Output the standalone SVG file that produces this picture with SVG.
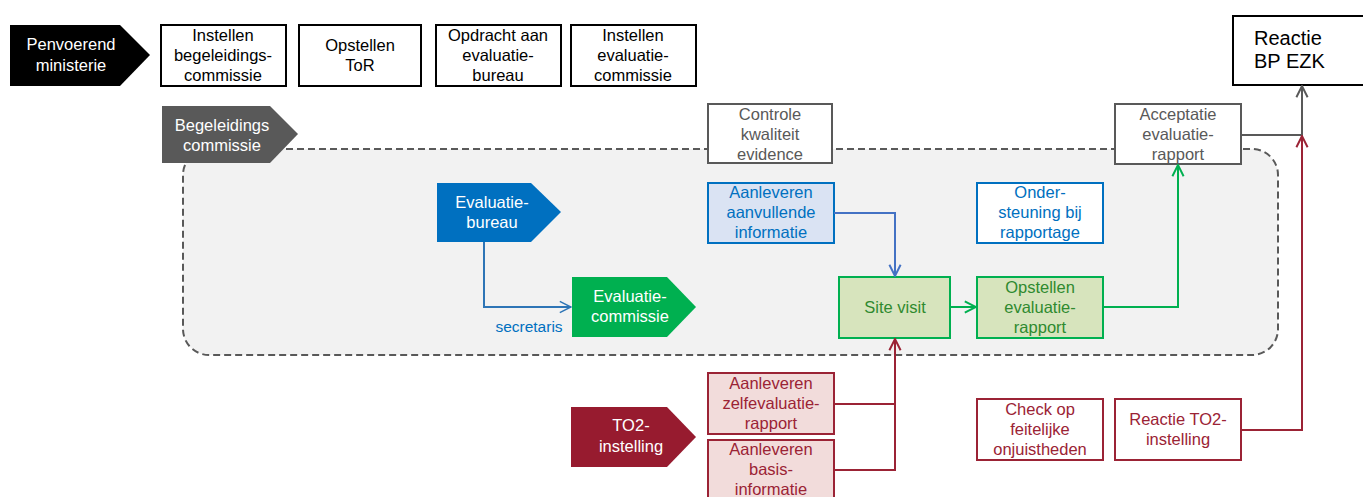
<svg xmlns="http://www.w3.org/2000/svg" width="1363" height="497" viewBox="0 0 1363 497">
<style>
text{font-family:"Liberation Sans",Arial,sans-serif;font-size:16.5px;text-anchor:middle}
.bk{fill:#fff;stroke:#000;stroke-width:2}
.gy{fill:#fff;stroke:#595959;stroke-width:2}
.gyt{fill:#595959}
.bl{stroke:#0070c0;stroke-width:2}
.blt{fill:#0070c0}
.gr{fill:#d7e4bd;stroke:#00b050;stroke-width:2}
.grt{fill:#2f8a2f}
.rd{stroke:#9b2335;stroke-width:2}
.rdt{fill:#9b2335}
.wt{fill:#fff}
.c{fill:none;stroke-width:2}
</style>
<defs>
<marker id="aB" viewBox="0 0 10 10" refX="9" refY="5" markerWidth="14" markerHeight="14" orient="auto" markerUnits="userSpaceOnUse"><path d="M1,1 L9,5 L1,9" fill="none" stroke="#4472c4" stroke-width="1.4"/></marker>
<marker id="aL" viewBox="0 0 10 10" refX="9" refY="5" markerWidth="14" markerHeight="14" orient="auto" markerUnits="userSpaceOnUse"><path d="M1,1 L9,5 L1,9" fill="none" stroke="#2e75b6" stroke-width="1.1"/></marker>
<marker id="aN" viewBox="0 0 10 10" refX="9" refY="5" markerWidth="14" markerHeight="14" orient="auto" markerUnits="userSpaceOnUse"><path d="M1,1 L9,5 L1,9" fill="none" stroke="#00b050" stroke-width="1.4"/></marker>
<marker id="aR" viewBox="0 0 10 10" refX="9" refY="5" markerWidth="14" markerHeight="14" orient="auto" markerUnits="userSpaceOnUse"><path d="M1,1 L9,5 L1,9" fill="none" stroke="#9b2335" stroke-width="1.4"/></marker>
<marker id="aK" viewBox="0 0 10 10" refX="9" refY="5" markerWidth="14" markerHeight="14" orient="auto" markerUnits="userSpaceOnUse"><path d="M1,1 L9,5 L1,9" fill="none" stroke="#595959" stroke-width="1.4"/></marker>
</defs>

<g id="region">
<rect x="183" y="149" width="1095" height="206" rx="26" fill="#f2f2f2" stroke="#595959" stroke-width="2" stroke-dasharray="7,4"/>
</g>

<g id="penvoerend"><path d="M10,25 H120 L150,55 L120,86 H10 Z" fill="#000"/><text class="wt" x="71" y="50">Penvoerend</text><text class="wt" x="71" y="71">ministerie</text></g>
<g id="instellen-bc"><rect class="bk" x="161" y="25" width="125" height="61"/><text x="223" y="41">Instellen</text><text x="223" y="61">begeleidings-</text><text x="223" y="81">commissie</text></g>
<g id="tor"><rect class="bk" x="299" y="25" width="122" height="61"/><text x="360" y="51">Opstellen</text><text x="360" y="71">ToR</text></g>
<g id="opdracht"><rect class="bk" x="436" y="25" width="125" height="61"/><text x="498" y="41">Opdracht aan</text><text x="498" y="61">evaluatie-</text><text x="498" y="81">bureau</text></g>
<g id="instellen-ec"><rect class="bk" x="571" y="25" width="125" height="61"/><text x="633" y="41">Instellen</text><text x="633" y="61">evaluatie-</text><text x="633" y="81">commissie</text></g>
<g id="reactie-bp"><rect class="bk" x="1233" y="16" width="135" height="69"/><text x="1254" y="45" style="font-size:20px;text-anchor:start">Reactie</text><text x="1254" y="68" style="font-size:20px;text-anchor:start">BP EZK</text></g>

<g id="begeleidings"><path d="M162,106 H270 L298,134 L270,163 H162 Z" fill="#595959"/><text class="wt" x="222" y="131">Begeleidings</text><text class="wt" x="222" y="151">commissie</text></g>
<g id="controle"><rect class="gy" x="708" y="104" width="124" height="59"/><text class="gyt" x="770" y="120">Controle</text><text class="gyt" x="770" y="140">kwaliteit</text><text class="gyt" x="770" y="160">evidence</text></g>
<g id="acceptatie"><rect class="gy" x="1115" y="104" width="126" height="60"/><text class="gyt" x="1178" y="120">Acceptatie</text><text class="gyt" x="1178" y="140">evaluatie-</text><text class="gyt" x="1178" y="160">rapport</text></g>

<g id="evaluatiebureau"><path d="M437,183 H531 L561,212 L531,242 H437 Z" fill="#0070c0"/><text class="wt" x="492" y="208">Evaluatie-</text><text class="wt" x="492" y="228">bureau</text></g>
<g id="aanvullende"><rect class="bl" fill="#dae3f3" x="708" y="183" width="126" height="60"/><text class="blt" x="771" y="198">Aanleveren</text><text class="blt" x="771" y="218">aanvullende</text><text class="blt" x="771" y="238">informatie</text></g>
<g id="ondersteuning"><rect class="bl" fill="#fff" x="977" y="183" width="126" height="60"/><text class="blt" x="1040" y="198">Onder-</text><text class="blt" x="1040" y="218">steuning bij</text><text class="blt" x="1040" y="238">rapportage</text></g>

<g id="evaluatiecommissie"><path d="M572,277 H667 L696,307 L667,337 H572 Z" fill="#00b050"/><text class="wt" x="630" y="302">Evaluatie-</text><text class="wt" x="630" y="322">commissie</text></g>
<g id="sitevisit"><rect class="gr" x="839" y="277" width="111" height="61"/><text class="grt" x="895" y="313">Site visit</text></g>
<g id="opstellen-rapport"><rect class="gr" x="977" y="277" width="126" height="61"/><text class="grt" x="1040" y="293">Opstellen</text><text class="grt" x="1040" y="313">evaluatie-</text><text class="grt" x="1040" y="333">rapport</text></g>

<g id="to2"><path d="M571,407 H667 L696,437 L667,467 H571 Z" fill="#971b2f"/><text class="wt" x="631" y="431">TO2-</text><text class="wt" x="631" y="452">instelling</text></g>
<g id="zelfevaluatie"><rect class="rd" fill="#f2dcdb" x="708" y="373" width="126" height="61"/><text class="rdt" x="771" y="389">Aanleveren</text><text class="rdt" x="771" y="409">zelfevaluatie-</text><text class="rdt" x="771" y="429">rapport</text></g>
<g id="basisinformatie"><rect class="rd" fill="#f2dcdb" x="708" y="440" width="126" height="62"/><text class="rdt" x="771" y="455">Aanleveren</text><text class="rdt" x="771" y="475">basis-</text><text class="rdt" x="771" y="495">informatie</text></g>
<g id="check"><rect class="rd" fill="#fff" x="977" y="399" width="126" height="61"/><text class="rdt" x="1040" y="415">Check op</text><text class="rdt" x="1040" y="435">feitelijke</text><text class="rdt" x="1040" y="455">onjuistheden</text></g>
<g id="reactie-to2"><rect class="rd" fill="#fff" x="1115" y="399" width="126" height="61"/><text class="rdt" x="1178" y="425">Reactie TO2-</text><text class="rdt" x="1178" y="445">instelling</text></g>

<g id="connectors">
<path class="c" d="M484,242 V307 H571" stroke="#2e75b6" stroke-width="1.2" marker-end="url(#aL)"/>
<text class="blt" x="529" y="332" style="font-size:15.5px">secretaris</text>
<path class="c" d="M834,213 H895 V276" stroke="#4472c4" marker-end="url(#aB)"/>
<path class="c" d="M950,307 H976" stroke="#00b050" marker-end="url(#aN)"/>
<path class="c" d="M1103,307 H1178 V165" stroke="#00b050" marker-end="url(#aN)"/>
<path class="c" d="M834,404 H895 M834,470 H895 V339" stroke="#9b2335" marker-end="url(#aR)"/>
<path class="c" d="M1241,135 H1302 V86" stroke="#595959" marker-end="url(#aK)"/>
<path class="c" d="M1241,430 H1302 V136" stroke="#9b2335" marker-end="url(#aR)"/>
</g>
</svg>
